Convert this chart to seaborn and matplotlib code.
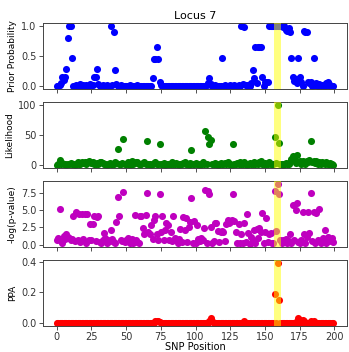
import pandas as pd
import seaborn as sns
import matplotlib.pyplot as plt

# SNP index 0..199
snp_pos = list(range(200))

prior = [0.0, 0.0, 0.02, 0.05, 0.15, 0.1, 0.15, 0.28, 0.8, 1.0,
         1.0, 0.47, 0.0, 0.0, 0.02, 0.0, 0.0, 0.03, 0.0, 0.01,
         0.0, 0.02, 0.0, 0.0, 0.03, 0.0, 0.01, 0.15, 0.15, 0.28,
         0.03, 0.0, 0.0, 0.02, 0.0, 0.0, 0.02, 0.0, 0.0, 1.0,
         0.02, 0.9, 0.27, 0.03, 0.0, 0.0, 0.01, 0.0, 0.0, 0.0,
         0.0, 0.0, 0.0, 0.01, 0.0, 0.0, 0.0, 0.0, 0.01, 0.0,
         0.0, 0.0, 0.0, 0.0, 0.0, 0.0, 0.0, 0.0, 0.0, 0.13,
         0.44, 0.44, 0.64, 0.44, 0.07, 0.02, 0.0, 0.0, 0.0, 0.0,
         0.0, 0.0, 0.0, 0.0, 0.0, 0.0, 0.0, 0.0, 0.0, 0.0,
         0.0, 0.0, 0.0, 0.0, 0.0, 0.0, 0.0, 0.0, 0.0, 0.0,
         0.0, 0.0, 0.0, 0.0, 0.0, 0.0, 0.0, 0.0, 0.02, 0.05,
         0.13, 0.03, 0.0, 0.0, 0.02, 0.0, 0.0, 0.0, 0.0, 0.46,
         0.0, 0.02, 0.0, 0.0, 0.0, 0.02, 0.0, 0.0, 0.02, 0.0,
         0.0, 0.02, 0.0, 1.0, 0.03, 0.98, 0.02, 0.0, 0.02, 0.0,
         0.05, 0.27, 0.13, 0.65, 0.05, 0.65, 0.65, 0.65, 0.15, 0.0,
         0.07, 0.07, 0.07, 1.0, 1.0, 1.0, 1.0, 1.0, 1.0, 1.0,
         1.0, 1.0, 1.0, 0.98, 1.0, 0.93, 0.92, 0.97, 0.9, 0.47,
         0.15, 0.08, 0.12, 0.05, 0.46, 0.15, 0.07, 0.0, 0.91, 0.9,
         0.89, 0.07, 0.05, 0.07, 0.0, 0.46, 0.02, 0.05, 0.0, 0.03,
         0.0, 0.02, 0.0, 0.0, 0.05, 0.07, 0.03, 0.0, 0.0, 0.0]

likelihood = [0, 2, 8, 1, 3, 2, 1, 0, 2, 1,
              3, 1, 2, 0, 1, 4, 2, 1, 5, 3,
              4, 2, 5, 6, 4, 3, 5, 2, 1, 3,
              2, 5, 4, 3, 1, 2, 0, 1, 3, 2,
              1, 2, 4, 3, 27, 2, 1, 3, 43, 1,
              2, 4, 1, 0, 6, 2, 3, 5, 4, 1,
              2, 1, 3, 5, 2, 40, 1, 2, 0, 1,
              3, 4, 2, 1, 35, 2, 1, 3, 0, 2,
              1, 2, 1, 4, 2, 1, 3, 2, 0, 1,
              2, 3, 4, 1, 2, 0, 3, 25, 2, 1,
              3, 2, 1, 0, 2, 4, 1, 56, 2, 47,
              35, 42, 1, 2, 3, 1, 0, 2, 3, 1,
              2, 3, 1, 4, 2, 1, 0, 34, 2, 1,
              3, 2, 4, 1, 2, 5, 1, 0, 2, 3,
              1, 2, 4, 2, 3, 1, 5, 6, 2, 1,
              3, 2, 1, 4, 2, 1, 2, 46, 3, 100,
              37, 2, 1, 0, 2, 3, 1, 2, 4, 10,
              14, 10, 3, 16, 5, 7, 2, 6, 3, 1,
              7, 4, 8, 40, 5, 7, 3, 6, 2, 4,
              1, 5, 3, 2, 4, 1, 2, 3, 1, 0]

neg_log_p = [0.7, 1.0, 5.1, 0.5, 0.2, 1.2, 0.8, 1.5, 1.1, 0.9,
             0.6, 0.8, 4.1, 0.5, 4.7, 0.6, 4.4, 0.4, 4.4, 0.8,
             4.4, 0.3, 4.4, 0.6, 3.0, 0.7, 3.0, 4.2, 0.5, 4.0,
             4.1, 0.4, 0.2, 0.6, 1.7, 0.9, 0.3, 0.7, 0.5, 2.1,
             0.8, 0.4, 0.3, 3.3, 6.9, 4.1, 0.6, 0.5, 7.6, 0.4,
             0.7, 0.9, 0.5, 0.3, 0.8, 0.2, 4.3, 0.6, 0.4, 0.2,
             4.2, 4.2, 2.4, 1.5, 4.3, 7.5, 1.9, 1.6, 2.9, 0.8,
             3.6, 4.1, 1.5, 0.6, 7.3, 1.8, 4.1, 0.6, 2.1, 3.1,
             2.9, 0.7, 1.9, 0.5, 4.1, 0.9, 0.6, 0.3, 0.8, 2.3,
             0.4, 4.0, 2.1, 3.9, 0.4, 2.5, 3.3, 6.8, 0.3, 3.4,
             0.2, 2.9, 0.8, 0.5, 0.9, 0.6, 2.4, 8.0, 0.3, 7.8,
             7.4, 2.5, 0.2, 0.5, 3.2, 3.1, 2.0, 0.4, 1.9, 2.0,
             1.9, 0.5, 3.0, 3.6, 3.1, 3.3, 3.5, 7.3, 3.4, 1.9,
             0.2, 3.0, 0.3, 1.6, 0.2, 3.2, 0.4, 4.4, 1.7, 0.1,
             1.1, 0.6, 2.1, 0.3, 2.2, 1.0, 2.4, 1.8, 4.6, 0.2,
             1.9, 3.9, 0.4, 1.5, 1.7, 0.3, 0.2, 7.8, 2.0, 8.8,
             7.4, 0.6, 0.3, 0.7, 0.4, 0.8, 0.2, 0.5, 1.6, 0.3,
             5.8, 0.6, 5.0, 6.0, 0.4, 0.2, 0.7, 4.7, 1.6, 0.3,
             1.1, 4.8, 1.7, 7.5, 0.5, 4.8, 0.3, 4.6, 0.7, 5.1,
             0.2, 0.4, 1.0, 2.1, 0.3, 1.1, 0.5, 0.6, 1.0, 0.4]

# posterior probabilities, zero except a few
ppa = [0.0] * 200
ppa_nonzero = {71: 0.01, 72: 0.015, 73: 0.01, 74: 0.005, 110: 0.015, 111: 0.03,
               112: 0.01, 135: 0.01, 157: 0.19, 159: 0.39, 160: 0.15, 172: 0.005,
               174: 0.03, 175: 0.02, 177: 0.02, 178: 0.01, 183: 0.01, 185: 0.01}
for k in ppa_nonzero:
    ppa[k] = ppa_nonzero[k]

df = pd.DataFrame({'pos': snp_pos, 'prior': prior, 'lik': likelihood,
                   'nlp': neg_log_p, 'ppa': ppa})

panels = [('prior', 'b', 'Prior Probability', [0.0, 0.5, 1.0]),
          ('lik', 'g', 'Likelihood', [0, 50, 100]),
          ('nlp', 'm', '-log(p-value)', [0.0, 2.5, 5.0, 7.5]),
          ('ppa', 'r', 'PPA', [0.0, 0.2, 0.4])]

fig, axes = plt.subplots(4, 1, figsize=(3.49, 3.52), dpi=100, sharex=True)
for ax, (col, c, lab, yt) in zip(axes, panels):
    sns.scatterplot(data=df, x='pos', y=col, color=c, s=26, linewidth=0, ax=ax)
    # highlight causal SNP
    ax.axvspan(156.5, 161.5, color='yellow', alpha=0.5, zorder=3, linewidth=0)
    ax.set_yticks(yt)
    ax.set_ylabel(lab, fontsize=6.5, labelpad=3)
    ax.set_xlabel('')
    ax.tick_params(labelsize=7, length=3, width=0.6, pad=1.5, colors='#333333')
    for s in ax.spines.values():
        s.set_linewidth(0.7)
        s.set_color('#444444')

axes[0].set_title('Locus 7', fontsize=8, pad=3)
axes[3].set_xlabel('SNP Position', fontsize=7, labelpad=0)
axes[3].set_xticks([0, 25, 50, 75, 100, 125, 150, 175, 200])

plt.subplots_adjust(left=0.123, right=0.994, top=0.935, bottom=0.074, hspace=0.2)
plt.savefig('out.png', dpi=100)
